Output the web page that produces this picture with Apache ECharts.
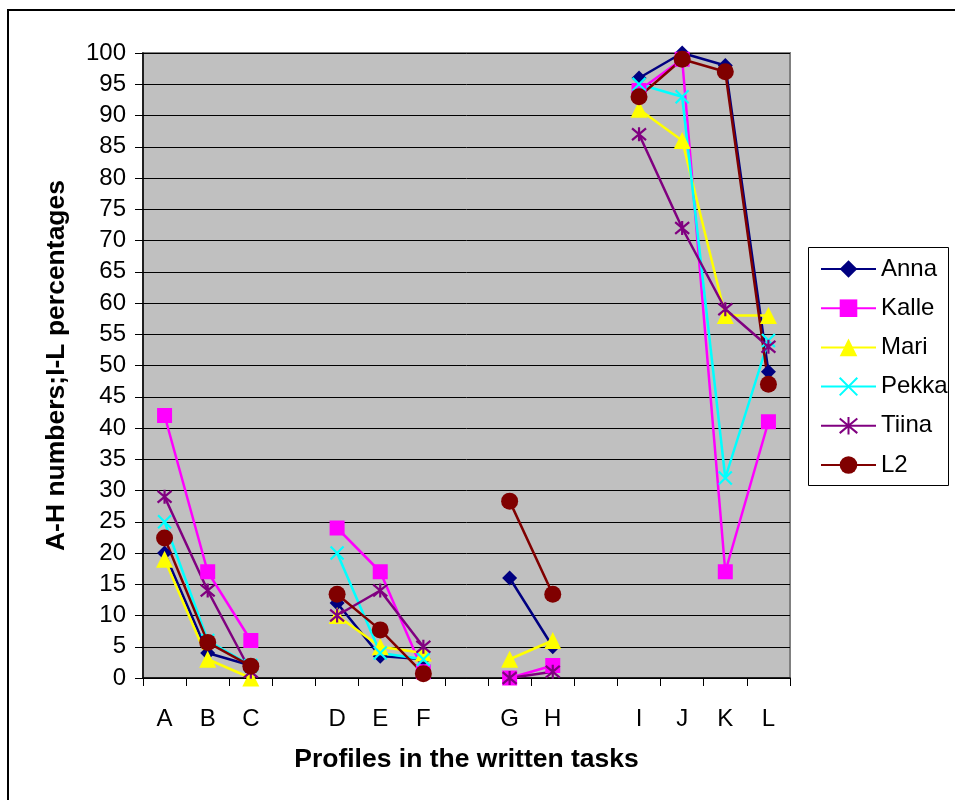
<!DOCTYPE html>
<html>
<head>
<meta charset="utf-8">
<script src="https://cdn.jsdelivr.net/npm/echarts@6/dist/echarts.min.js"></script>
<style>
  html, body { margin: 0; padding: 0; background: #fff; }
  #chart { width: 955px; height: 800px; }
</style>
</head>
<body>
<div id="chart"></div>
<script>
// Profile categories; blank entries separate the task groups
const categories = ['A', 'B', 'C', '', 'D', 'E', 'F', '', 'G', 'H', '', 'I', 'J', 'K', 'L'];

const anna  = [20, 4, 2, null, 12, 3.5, 3, null, 16, 5, null, 96, 100, 98, 49];
const kalle = [42, 17, 6, null, 24, 17, 1, null, 0, 2, null, 94, 99, 17, 41];
const mari  = [19, 3, 0, null, 10, 5, 4, null, 3, 6, null, 91, 86, 58, 58];
const pekka = [25, 6, 2, null, 20, 4, 3, null, null, null, null, 95, 93, 32, 54];
const tiina = [29, 14, 1, null, 10, 14, 5, null, 0, 1, null, 87, 72, 59, 53];
const l2    = [22.4, 5.7, 1.9, null, 13.4, 7.7, 0.7, null, 28.3, 13.4, null, 93, 99, 97, 47];

const FONT = '"Liberation Sans", Arial, sans-serif';
const CROSS = 'path://M0,0L10,10M10,0L0,10';
const STAR = 'path://M0,0L10,10M10,0L0,10M5,-1L5,11';

function makeSeries(name, data, color, symbol, size, stroke) {
  return {
    name: name,
    type: 'line',
    data: data,
    color: color,
    symbol: symbol,
    symbolSize: size,
    clip: false,
    connectNulls: false,
    lineStyle: { width: 2.5, color: color },
    itemStyle: stroke
      ? { color: color, borderColor: color, borderWidth: 2.2 }
      : { color: color, borderWidth: 0 },
    emphasis: { disabled: true },
    animation: false
  };
}

const chart = echarts.init(document.getElementById('chart'), null, { renderer: 'canvas' });

chart.setOption({
  backgroundColor: '#ffffff',
  animation: false,
  grid: {
    left: 143, right: 165, top: 53, bottom: 122,
    show: true,
    backgroundColor: '#C0C0C0',
    borderColor: '#808080',
    borderWidth: 2
  },
  legend: {
    orient: 'vertical',
    left: 815,
    top: 252,
    itemWidth: 55,
    itemHeight: 22,
    itemGap: 15.2,
    textStyle: { fontFamily: FONT, fontSize: 24, color: '#000' },
    data: ['Anna', 'Kalle', 'Mari', 'Pekka', 'Tiina', 'L2']
  },
  xAxis: {
    type: 'category',
    data: categories,
    boundaryGap: true,
    name: 'Profiles in the written tasks',
    nameLocation: 'middle',
    nameGap: 68,
    nameTextStyle: { fontFamily: FONT, fontSize: 26.5, fontWeight: 'bold', color: '#000' },
    axisLine: { lineStyle: { color: '#000', width: 1.5 } },
    axisTick: { show: true, length: 8, interval: 0, lineStyle: { color: '#000', width: 1 } },
    axisLabel: { interval: 0, margin: 29, fontFamily: FONT, fontSize: 24, color: '#000' },
    splitLine: { show: false }
  },
  yAxis: {
    type: 'value',
    min: 0, max: 100, interval: 5,
    name: 'A-H numbers;I-L percentages',
    nameLocation: 'middle',
    nameGap: 73,
    nameTextStyle: { fontFamily: FONT, fontSize: 26.5, fontWeight: 'bold', color: '#000' },
    axisLine: { show: true, lineStyle: { color: '#000', width: 1.5 } },
    axisTick: { show: true, length: 8, lineStyle: { color: '#000', width: 1 } },
    axisLabel: { margin: 17, fontFamily: FONT, fontSize: 24, color: '#000' },
    splitLine: { show: true, lineStyle: { color: '#000', width: 1 } }
  },
  graphic: [
    {
      type: 'rect',
      shape: { x: 8, y: 10, width: 1000, height: 900 },
      style: { fill: null, stroke: '#000', lineWidth: 2 },
      silent: true, z: 100
    },
    {
      type: 'rect',
      shape: { x: 808.5, y: 247.5, width: 140, height: 238 },
      style: { fill: null, stroke: '#000', lineWidth: 1 },
      silent: true, z: 100
    }
  ],
  series: [
    makeSeries('Anna', anna, '#000080', 'diamond', 15, false),
    makeSeries('Kalle', kalle, '#FF00FF', 'rect', 15, false),
    makeSeries('Mari', mari, '#FFFF00', 'triangle', 17, false),
    makeSeries('Pekka', pekka, '#00FFFF', CROSS, 13, true),
    makeSeries('Tiina', tiina, '#800080', STAR, 14, true),
    makeSeries('L2', l2, '#800000', 'circle', 17, false)
  ]
});
</script>
</body>
</html>
